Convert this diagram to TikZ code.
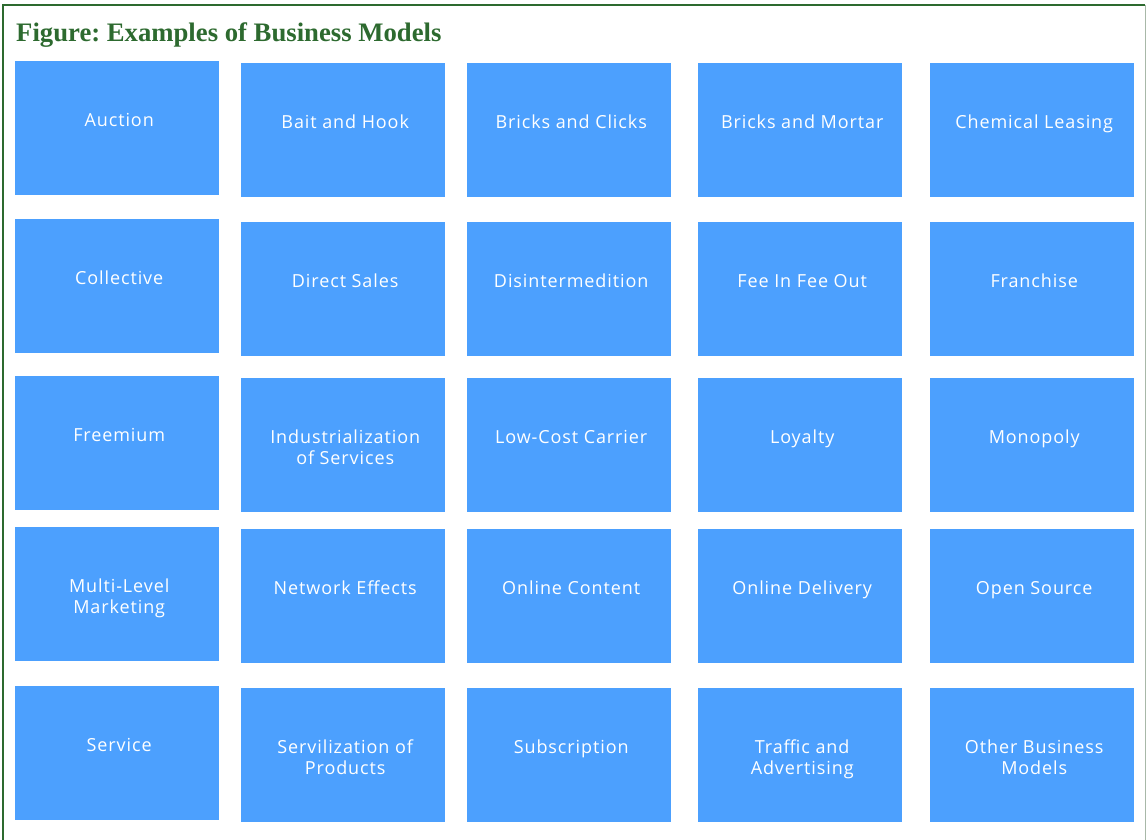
\documentclass[tikz,border=0pt]{standalone}
\usepackage{fontspec}
\setmainfont{Liberation Serif}
\newfontfamily\boxfont[LetterSpace=5]{Open Sans}
\definecolor{boxblue}{HTML}{4CA0FE}
\definecolor{titlegreen}{HTML}{2D6A2F}
\definecolor{rightgray}{HTML}{A8B8A8}
\begin{document}
\frenchspacing
\begin{tikzpicture}[x=1pt,y=-1pt,
  bmbox/.style={fill=boxblue,draw=none,minimum width=204pt,minimum height=134pt,inner sep=0pt,anchor=north west},
  bmtext/.style={text=white,font=\boxfont\fontsize{18}{21}\selectfont,align=center,inner sep=0pt,anchor=north}]
\useasboundingbox (0,0) rectangle (1146,840);
\coordinate (bl) at (2.5,850);
\coordinate (tl) at (2.5,5);
\coordinate (tr) at (1145,5);
\coordinate (br) at (1145,850);
\draw[titlegreen,line width=2pt] (bl) -- (tl) -- (tr);
\draw[rightgray,line width=1pt] (tr) -- (br);
\node[font=\bfseries\fontsize{26.7}{30}\selectfont,text=titlegreen,anchor=base west,inner sep=0pt] (title) at (16,42) {Figure: Examples of Business Models};
\foreach \r/\ta/\tb in {1/61/63,2/219/222,3/376/378,4/527/529,5/686/688}{
  \foreach \c/\x in {1/15,2/241,3/467,4/698,5/930}{
    \ifnum\c=1
      \node[bmbox] (b-\r-\c) at (\x,\ta) {};
    \else
      \node[bmbox] (b-\r-\c) at (\x,\tb) {};
    \fi
  }
}
\foreach \r/\c/\t in {
 1/1/Auction,1/2/Bait and Hook,1/3/Bricks and Clicks,1/4/Bricks and Mortar,1/5/Chemical Leasing,
 2/1/Collective,2/2/Direct Sales,2/3/Disintermedition,2/4/Fee In Fee Out,2/5/Franchise,
 3/1/Freemium,3/2/Industrialization\\of Services,3/3/Low-Cost Carrier,3/4/Loyalty,3/5/Monopoly,
 4/1/Multi-Level\\Marketing,4/2/Network Effects,4/3/Online Content,4/4/Online Delivery,4/5/Open Source,
 5/1/Service,5/2/Servilization of\\Products,5/3/Subscription,5/4/Traffic and\\Advertising,5/5/Other Business\\Models}{
  \node[bmtext] (t-\r-\c) at ([xshift=2pt,yshift=-52pt]b-\r-\c.north) {\t};
}
\end{tikzpicture}
\end{document}
